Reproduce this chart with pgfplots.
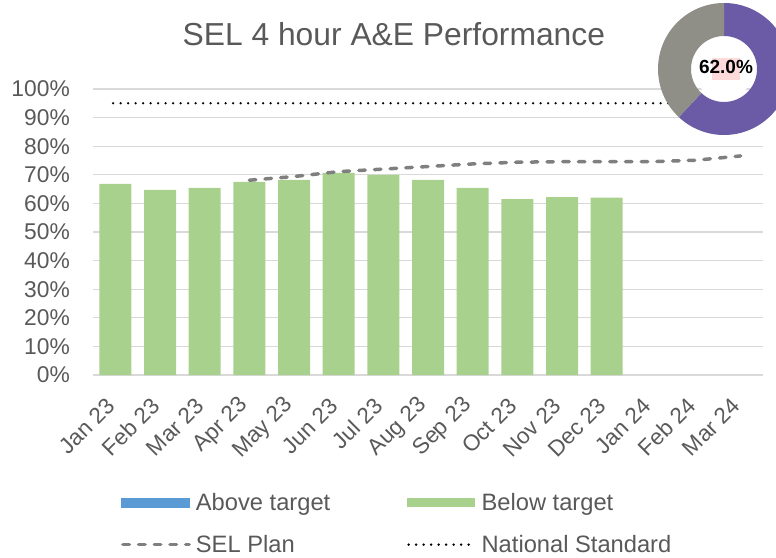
\documentclass[border=0pt]{standalone}
\usepackage{pgfplots}
\pgfplotsset{compat=1.18}
\usepackage{fontspec}
\setmainfont{Liberation Sans}
\definecolor{txt}{HTML}{595959}
\definecolor{barg}{HTML}{A9D18E}
\definecolor{barb}{HTML}{5B9BD5}
\definecolor{plan}{HTML}{7F7F7F}
\definecolor{gridc}{HTML}{D9D9D9}
\definecolor{dpurple}{HTML}{6B5BA6}
\definecolor{dgrey}{HTML}{8F8F88}
\definecolor{pinkhl}{HTML}{FFDADA}
\tikzset{planstyle/.style={plan, line width=3.5pt, dash pattern=on 6.5pt off 9.2pt, line cap=round},
  natstyle/.style={black, line width=2.6pt, dash pattern=on 0pt off 7.5pt, line cap=round}}
\begin{document}
\begin{tikzpicture}
\useasboundingbox (-93pt,-182pt) rectangle (683pt,375pt);
\begin{axis}[
  at={(0pt,0pt)}, anchor=south west,
  scale only axis, width=670pt, height=286pt,
  xmin=-0.5, xmax=14.5, ymin=0, ymax=100,
  axis line style={draw=none},
  major tick length=0pt,
  ymajorgrids, grid style={draw=gridc, line width=1.3pt},
  ytick={0,10,...,100},
  yticklabels={0\%,10\%,20\%,30\%,40\%,50\%,60\%,70\%,80\%,90\%,100\%},
  xtick={0,...,14},
  xticklabels={Jan 23,Feb 23,Mar 23,Apr 23,May 23,Jun 23,Jul 23,Aug 23,Sep 23,Oct 23,Nov 23,Dec 23,Jan 24,Feb 24,Mar 24},
  tick label style={font=\fontsize{22.5}{26}\selectfont, text=txt, inner sep=0pt},
  yticklabel style={anchor=east, xshift=-23pt, font=\fontsize{22.8}{26}\selectfont},
  xticklabel style={xshift=-4.5pt, yshift=-27pt, rotate=45, anchor=east},
  /pgf/number format/assume math mode=true,
  title={SEL 4 hour A\&E Performance},
  title style={at={(axis description cs:0.449,1.130)}, anchor=base, font=\fontsize{31.8}{36}\selectfont, text=txt, inner sep=0pt},
  legend columns=2,
  legend cell align=left,
  legend style={draw=none, fill=none, at={(axis description cs:0.037,-0.40)}, anchor=north west,
    font=\fontsize{23.7}{27}\selectfont, text=txt, row sep=19pt,
    /tikz/every odd column/.append style={column sep=3pt},
    /tikz/every even column/.append style={column sep=75pt}},
]
\addlegendimage{legend image code/.code={\fill[barb] (0pt,-4.5pt) rectangle (68pt,4.5pt);}}
\addlegendentry{Above target}
\addplot[ybar, bar width=32pt, bar shift=0pt, fill=barg, draw=none,
  legend image code/.code={\fill[barg] (0pt,-4.5pt) rectangle (68pt,4.5pt);}]
  coordinates {(0,66.8) (1,64.7) (2,65.4) (3,67.5) (4,68.2) (5,70.7) (6,70.0) (7,68.2) (8,65.4) (9,61.5) (10,62.2) (11,62.0)};
\addlegendentry{Below target}
\addplot[planstyle,
  legend image code/.code={\draw[planstyle] (1.7pt,0pt) -- (68pt,0pt);}]
  coordinates {(3,68.1) (4,69.4) (5,71.1) (6,72.0) (7,72.9) (8,73.8) (9,74.4) (10,74.6) (11,74.6) (12,74.6) (13,75.1) (14,76.6)};
\addlegendentry{SEL Plan}
\addplot[natstyle,
  legend image code/.code={\draw[natstyle] (1.3pt,0pt) -- (68pt,0pt);}]
  coordinates {(-0.05,95) (14,95)};
\addlegendentry{National Standard}
\end{axis}
\begin{axis}[at={(631pt,306pt)}, anchor=center, scale only axis, width=132pt, height=132pt,
  xmin=-1, xmax=1, ymin=-1, ymax=1, hide axis]
\coordinate (dc) at (axis cs:0,0);
\end{axis}
\pgfmathsetmacro{\ang}{90-3.6*62.0}
\fill[dpurple] ([shift={(90:66pt)}]dc) arc[start angle=90, end angle=\ang, radius=66pt]
  -- ([shift={(\ang:33pt)}]dc) arc[start angle=\ang, end angle=90, radius=33pt] -- cycle;
\fill[dgrey] ([shift={(\ang:66pt)}]dc) arc[start angle=\ang, end angle=-270, radius=66pt]
  -- ([shift={(90:33pt)}]dc) arc[start angle=90, end angle=\ang+360, radius=33pt] -- cycle;
\fill[white] (dc) circle[radius=30pt];
\fill[pinkhl] ([shift={(-12pt,-11pt)}]dc) rectangle ([shift={(16pt,11pt)}]dc);
\node[font=\fontsize{19}{22}\selectfont\bfseries, text=black, inner sep=0pt] at ([shift={(2pt,2pt)}]dc) {62.0\%};
\end{tikzpicture}
\end{document}
